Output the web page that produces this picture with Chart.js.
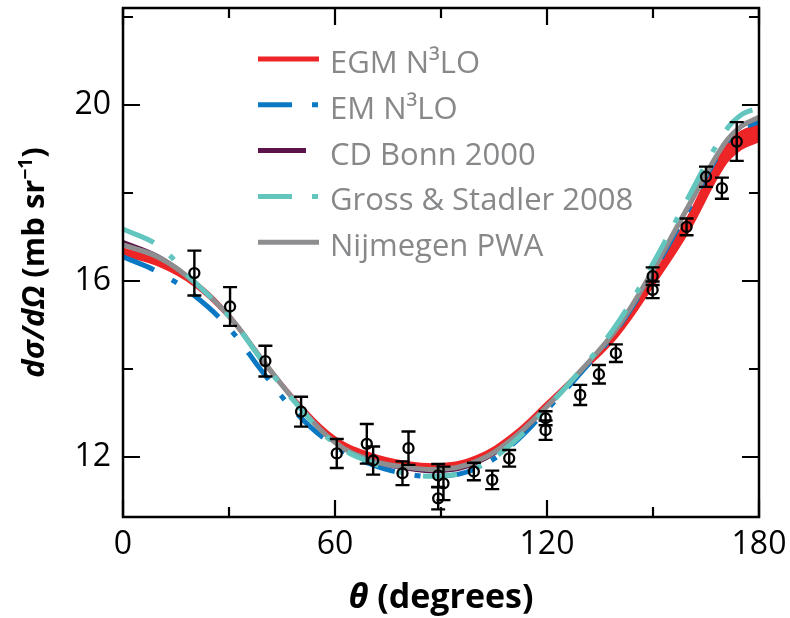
<!DOCTYPE html>
<html><head><meta charset="utf-8">
<script src="https://cdn.jsdelivr.net/npm/chart.js@4.4.1/dist/chart.umd.min.js"></script>
<style>html,body{margin:0;padding:0;background:#fff}#wrap{width:790px;height:618px}</style>
</head><body><div id="wrap"><canvas id="c" width="790" height="618"></canvas></div>
<script>
// ---------- data ----------
const thetaCurve   = [0, 10, 20, 30, 40, 50, 60, 70, 80, 90, 100, 110, 120, 130, 140, 150, 160, 170, 175, 180];
const egmUpper     = [16.74,16.49,16.02,15.25,14.19,13.22,12.45,12.08,11.89,11.84,12.02,12.51,13.25,14.03,14.89,16.11,17.48,19.04,19.40,19.55];
const egmLower     = [16.58,16.35,15.90,15.15,14.09,13.12,12.35,11.98,11.79,11.74,11.92,12.41,13.15,13.93,14.75,15.89,17.12,18.60,19.00,19.17];
const emN3LO       = [16.55,16.20,15.68,14.93,13.88,12.92,12.25,11.84,11.62,11.56,11.74,12.27,13.08,13.95,14.92,16.20,17.62,19.05,19.45,19.62];
const cdBonn       = [16.90,16.57,16.00,15.22,14.16,13.16,12.34,11.92,11.73,11.67,11.85,12.36,13.13,13.98,14.93,16.22,17.66,19.08,19.50,19.70];
const grossStadler = [17.18,16.80,16.00,15.20,14.12,13.12,12.30,11.88,11.63,11.57,11.75,12.30,13.12,14.02,15.05,16.40,17.90,19.35,19.78,19.93];
const nijmegen     = [16.82,16.54,15.98,15.20,14.15,13.15,12.33,11.93,11.77,11.72,11.90,12.40,13.15,14.00,14.95,16.25,17.70,19.10,19.52,19.72];

const thetaExp = [20.2, 30.3, 40.3, 50.4, 60.5, 69.0, 70.8, 79.1, 80.8, 89.2, 90.7, 89.2, 99.3, 104.5, 109.3, 119.6, 119.6, 129.4, 134.7, 139.5, 149.9, 149.9, 159.5, 165.0, 169.5, 173.7];
const sigmaExp = [16.18, 15.42, 14.18, 13.03, 12.08, 12.30, 11.92, 11.63, 12.20, 11.58, 11.40, 11.06, 11.67, 11.48, 11.97, 12.88, 12.61, 13.41, 13.88, 14.36, 16.11, 15.80, 17.23, 18.37, 18.11, 19.17];
const errExp   = [0.51, 0.44, 0.35, 0.34, 0.33, 0.45, 0.32, 0.27, 0.38, 0.26, 0.38, 0.25, 0.20, 0.21, 0.19, 0.16, 0.22, 0.23, 0.21, 0.20, 0.20, 0.19, 0.19, 0.23, 0.24, 0.44];

const seriesLabels = ['EGM N³LO', 'EM N³LO', 'CD Bonn 2000', 'Gross & Stadler 2008', 'Nijmegen PWA'];
const xTickLabels = [0, 60, 120, 180];
const xMinorTicks = [30, 90, 150];
const yTickLabels = [12, 16, 20];
const yMinorTicks = [14, 18, 22];
const xTitleParts = ['θ', ' (degrees)'];
const yTitleParts = ['dσ/dΩ', ' (mb sr', '−1', ')'];

// ---------- styles ----------
const C_RED = '#ee2527', C_BLUE = '#0a78c2', C_PURPLE = '#5c1349', C_CYAN = '#62c6bf', C_GRAY = '#8e8e90';
const DASH = [34, 20, 6, 20];
const pts = arr => thetaCurve.map((t, i) => ({x: t, y: arr[i]}));

const datasets = [
  {label: seriesLabels[0], data: pts(egmUpper), borderColor: C_RED, borderWidth: 2, backgroundColor: C_RED, fill: false, order: 6},
  {label: '', data: pts(egmLower), borderColor: C_RED, borderWidth: 2, backgroundColor: C_RED, fill: '-1', order: 5},
  {label: seriesLabels[1], data: pts(emN3LO), borderColor: C_BLUE, borderWidth: 5, borderDash: DASH, fill: false, order: 4},
  {label: seriesLabels[2], data: pts(cdBonn), borderColor: C_PURPLE, borderWidth: 3, fill: false, order: 3},
  {label: seriesLabels[4], data: pts(nijmegen), borderColor: C_GRAY, borderWidth: 5, fill: false, order: 2},
  {label: seriesLabels[3], data: pts(grossStadler), borderColor: C_CYAN, borderWidth: 5, borderDash: DASH, fill: false, order: 1},
  {label: 'data', data: thetaExp.map((t, i) => ({x: t, y: sigmaExp[i]})), showLine: false,
   pointRadius: 5, pointBorderWidth: 2.3, pointBorderColor: '#000', pointBackgroundColor: 'rgba(0,0,0,0)', order: 0}
];
datasets.forEach(d => { if (d.showLine !== false) { d.pointRadius = 0; d.tension = 0.4; } });

const legendItems = [
  {label: seriesLabels[0], color: C_RED, width: 5, dash: [], len: 61},
  {label: seriesLabels[1], color: C_BLUE, width: 5, dash: DASH, len: 61},
  {label: seriesLabels[2], color: C_PURPLE, width: 5, dash: [], len: 48},
  {label: seriesLabels[3], color: C_CYAN, width: 5, dash: DASH, len: 61},
  {label: seriesLabels[4], color: C_GRAY, width: 5, dash: [], len: 61}
];

const errorBars = {
  id: 'errorBars',
  afterDatasetsDraw(chart) {
    const {ctx, scales: {x, y}} = chart;
    ctx.save();
    ctx.strokeStyle = '#000'; ctx.lineWidth = 2.4;
    thetaExp.forEach((t, i) => {
      const px = x.getPixelForValue(t);
      const y1 = y.getPixelForValue(sigmaExp[i] + errExp[i]);
      const y2 = y.getPixelForValue(sigmaExp[i] - errExp[i]);
      ctx.beginPath();
      ctx.moveTo(px, y1); ctx.lineTo(px, y2);
      ctx.moveTo(px - 7, y1); ctx.lineTo(px + 7, y1);
      ctx.moveTo(px - 7, y2); ctx.lineTo(px + 7, y2);
      ctx.stroke();
    });
    ctx.restore();
  }
};

const frame = {
  id: 'frame',
  afterDraw(chart) {
    const {ctx, chartArea: a, scales: {x, y}} = chart;
    ctx.save();
    ctx.strokeStyle = '#000'; ctx.lineWidth = 2.5;
    ctx.strokeRect(a.left, a.top, a.right - a.left, a.bottom - a.top);
    ctx.lineWidth = 2.2;
    ctx.beginPath();
    const xt = (v, L) => { const p = x.getPixelForValue(v);
      ctx.moveTo(p, a.bottom); ctx.lineTo(p, a.bottom - L);
      ctx.moveTo(p, a.top); ctx.lineTo(p, a.top + L); };
    const yt = (v, L) => { const p = y.getPixelForValue(v);
      ctx.moveTo(a.left, p); ctx.lineTo(a.left + L, p);
      ctx.moveTo(a.right, p); ctx.lineTo(a.right - L, p); };
    xTickLabels.forEach(v => xt(v, 17)); xMinorTicks.forEach(v => xt(v, 10));
    yTickLabels.forEach(v => yt(v, 17)); yMinorTicks.forEach(v => yt(v, 10));
    ctx.stroke();
    ctx.restore();
  }
};

const legendPlugin = {
  id: 'customLegend',
  afterDraw(chart) {
    const {ctx, chartArea: a} = chart;
    ctx.save();
    const x0 = a.left + 135, tx = a.left + 207;
    legendItems.forEach((it, i) => {
      const yy = a.top + 51 + i * 45.8;
      ctx.strokeStyle = it.color; ctx.lineWidth = it.width; ctx.setLineDash(it.dash);
      ctx.beginPath(); ctx.moveTo(x0, yy); ctx.lineTo(x0 + it.len, yy); ctx.stroke();
      ctx.setLineDash([]);
      ctx.fillStyle = '#87888a';
      ctx.font = '31px "Open Sans"';
      ctx.textBaseline = 'alphabetic'; ctx.textAlign = 'left';
      ctx.fillText(it.label, tx, yy + 14);
    });
    ctx.restore();
  }
};

const titles = {
  id: 'axisTitles',
  afterDraw(chart) {
    const {ctx, chartArea: a} = chart;
    ctx.save();
    ctx.fillStyle = '#000'; ctx.textBaseline = 'alphabetic'; ctx.textAlign = 'left';
    const fx = ['italic bold 34px "Open Sans"', 'bold 34px "Open Sans"'];
    let w = 0;
    xTitleParts.forEach((p, i) => { ctx.font = fx[i]; w += ctx.measureText(p).width; });
    let cx = (a.left + a.right) / 2 - w / 2;
    xTitleParts.forEach((p, i) => { ctx.font = fx[i]; ctx.fillText(p, cx, 608); cx += ctx.measureText(p).width; });
    const fy = ['italic bold 31px "Open Sans"', 'bold 31px "Open Sans"', 'bold 19px "Open Sans"', 'bold 31px "Open Sans"'];
    const dy = [0, 0, -12, 0];
    w = 0;
    yTitleParts.forEach((p, i) => { ctx.font = fy[i]; w += ctx.measureText(p).width; });
    ctx.translate(44, (a.top + a.bottom) / 2);
    ctx.rotate(-Math.PI / 2);
    cx = -w / 2;
    yTitleParts.forEach((p, i) => { ctx.font = fy[i]; ctx.fillText(p, cx, dy[i]); cx += ctx.measureText(p).width; });
    ctx.restore();
  }
};

const noPad = s => { s.paddingLeft = 0; s.paddingRight = 0; s.paddingTop = 0; s.paddingBottom = 0; };

new Chart(document.getElementById('c'), {
  type: 'line',
  data: {datasets},
  options: {
    responsive: false, animation: false,
    layout: {padding: {top: 8, right: 31, left: 0, bottom: 0}},
    plugins: {legend: {display: false}, tooltip: {enabled: false}},
    scales: {
      x: {
        type: 'linear', min: 0, max: 180,
        grid: {display: false, drawTicks: false}, border: {display: false},
        ticks: {font: {family: 'Open Sans', size: 32}, color: '#000', padding: 9, maxRotation: 0},
        afterBuildTicks: s => { s.ticks = xTickLabels.map(v => ({value: v})); },
        afterFit: s => { s.height = 101; noPad(s); }
      },
      y: {
        type: 'linear', min: 10.636, max: 22.205,
        grid: {display: false, drawTicks: false}, border: {display: false},
        ticks: {font: {family: 'Open Sans', size: 32}, color: '#000', padding: 12},
        afterBuildTicks: s => { s.ticks = yTickLabels.map(v => ({value: v})); },
        afterFit: s => { s.width = 123; noPad(s); }
      }
    }
  },
  plugins: [errorBars, frame, legendPlugin, titles]
});
</script>
</body></html>
